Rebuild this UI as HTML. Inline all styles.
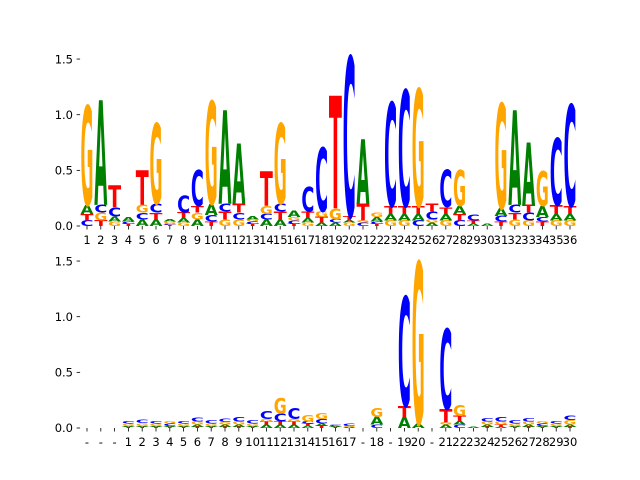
<!DOCTYPE html>
<html><head><meta charset="utf-8"><style>
body{margin:0;background:#fff;}
svg{display:block;font-family:"DejaVu Sans","Liberation Sans",sans-serif;}
</style></head><body>
<svg id="chart" width="640" height="480" viewBox="0 0 640 480"></svg>
<script>
const topLabels=['1','2','3','4','5','6','7','8','9','10','11','12','13','14','15','16','17','18','19','20','21','22','23','24','25','26','27','28','29','30','31','32','33','34','35','36'];
const topLetters=['CTAG','TGCA','GACT','TCA','ACGT','ATCG','TCGA','GATC','AGTC','TCAG','GTCA','GCTA','TCGA','ACGT','ATCG','TCGA','GATC','ATGC','ACGT','GATC','CGTA','TCAG','GATC','GATC','CATG','AGCT','GATC','CTAG','ATC','A','TCAG','GTCA','GCTA','TCAG','GATC','GATC'];
const topHeights=[[.05,.06,.08,.89],[.05,.07,.07,.94],[.04,.045,.08,.2],[.02,.02,.04],[.06,.06,.07,.31],[.06,.06,.08,.72],[.01,.01,.02,.02],[.03,.04,.05,.15],[.06,.06,.06,.32],[.04,.06,.1,.92],[.06,.07,.07,.84],[.06,.06,.08,.54],[.02,.02,.02,.03],[.06,.05,.07,.31],[.06,.07,.07,.72],[.02,.03,.03,.06],[.03,.04,.06,.22],[.03,.05,.05,.57],[.03,.03,.1,1.01],[.03,.02,.04,1.43],[.03,.02,.15,.58],[.02,.02,.04,.04],[.05,.06,.07,.93],[.05,.06,.07,1.04],[.05,.06,.07,1.05],[.03,.03,.07,.07],[.05,.06,.06,.33],[.05,.06,.07,.32],[.02,.03,.05],[.02],[.04,.05,.07,.94],[.06,.06,.07,.85],[.05,.07,.07,.56],[.04,.04,.1,.31],[.05,.06,.08,.6],[.05,.06,.07,.91]];
const botLabels=['-','-','-','1','2','3','4','5','6','7','8','9','10','11','12','13','14','15','16','17','-','18','-','19','20','-','21','22','23','24','25','26','27','28','29','30'];
const botLetters=['','','','TAGC','TAGC','TAGC','TACG','TAGC','TAGC','TAGC','TAGC','TAGC','TAGC','ATGC','ATCG','ATGC','ATCG','TACG','TAC','AGC','','CAG','','ATC','AG','','AGTC','CATG','A','TAGC','ATGC','TAGC','TAGC','TACG','TAGC','TAGC'];
const botHeights=[[],[],[],[.01,.01,.02,.025],[.01,.01,.025,.03],[.01,.01,.02,.025],[.01,.01,.02,.025],[.01,.01,.02,.025],[.01,.02,.03,.035],[.01,.01,.02,.03],[.01,.02,.025,.03],[.01,.02,.03,.04],[.01,.01,.02,.03],[.03,.03,.02,.07],[.03,.03,.07,.14],[.03,.03,.02,.1],[.02,.02,.02,.06],[.02,.02,.04,.05],[.01,.01,.01],[.01,.01,.02],[],[.03,.07,.08],[],[.1,.1,.98],[.04,1.45],[],[.03,.02,.12,.72],[.03,.03,.05,.1],[.01],[.01,.02,.03,.03],[.01,.02,.03,.04],[.01,.01,.02,.03],[.01,.02,.03,.03],[.01,.01,.02,.02],[.01,.01,.02,.02],[.01,.02,.04,.04]];
const yTicks=[0,0.5,1,1.5];
const colors={A:'#008000',C:'#0000ff',G:'#ffa500',T:'#ff0000'};
const svg=document.getElementById('chart');
const NS='http://www.w3.org/2000/svg';
const xLeft=80.1,xRight=576.9,nPos=36;
function xScale(i){return xLeft+(i+0.5)*(xRight-xLeft)/nPos;}
const step=(xRight-xLeft)/nPos;
function mk(t){return document.createElementNS(NS,t);}
function panel(base,labels,letters,heights,name){
  const ppb=111.3;
  const y=v=>base-v*ppb;
  const g=mk('g');
  
  
  svg.appendChild(g);
  yTicks.forEach(t=>{
    const l=mk('line');l.setAttribute('x1',76.6);l.setAttribute('x2',80.1);l.setAttribute('y1',y(t));l.setAttribute('y2',y(t));l.setAttribute('stroke','#000');l.setAttribute('stroke-width','0.8');
    
    
    g.appendChild(l);
    const tx=mk('text');tx.setAttribute('x',73);tx.setAttribute('y',y(t)+4.2);tx.setAttribute('text-anchor','end');tx.setAttribute('font-size','11.5');tx.textContent=t.toFixed(1);
    
    
    g.appendChild(tx);
  });
  labels.forEach((lab,i)=>{
    const x=xScale(i);
    const l=mk('line');l.setAttribute('x1',x);l.setAttribute('x2',x);l.setAttribute('y1',base);l.setAttribute('y2',base+3.5);l.setAttribute('stroke','#000');l.setAttribute('stroke-width','0.8');
    
    
    g.appendChild(l);
    const tx=mk('text');tx.setAttribute('x',x);tx.setAttribute('y',base+18);tx.setAttribute('text-anchor','middle');tx.setAttribute('font-size','11.5');tx.textContent=lab;
    
    
    g.appendChild(tx);
  });
  letters.forEach((s,i)=>{
    let acc=0;
    const hs=heights[i]||[];
    for(let k=0;k<s.length&&k<hs.length;k++){
      const ch=s[k],h=hs[k];
      const px=h*ppb;
      if(px<0.3){acc+=h;continue;}
      const fs=10;
      const sy=px/(0.729*fs);
      const w=step*0.94;
      const t=mk('text');
      t.setAttribute('x',0);t.setAttribute('y',0);
      t.setAttribute('font-size',fs);t.setAttribute('font-weight','bold');
      t.setAttribute('fill',colors[ch]);
      t.setAttribute('textLength',w);t.setAttribute('lengthAdjust','spacingAndGlyphs');
      t.setAttribute('transform','translate('+(xScale(i)-w/2)+','+y(acc)+') scale(1,'+sy+')');
      t.textContent=ch;
      
      
      g.appendChild(t);
      acc+=h;
    }
  });
}
panel(226,topLabels,topLetters,topHeights,'top-logo-panel');
panel(428,botLabels,botLetters,botHeights,'bottom-logo-panel');
</script>
</body></html>
